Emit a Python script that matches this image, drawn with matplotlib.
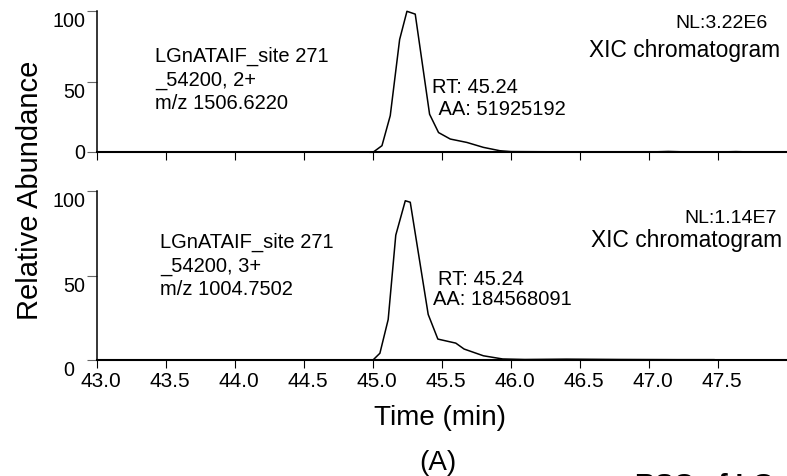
import matplotlib
matplotlib.use("Agg")
import matplotlib.pyplot as plt
from matplotlib.transforms import ScaledTranslation

plt.rcParams['font.family'] = ['Liberation Sans', 'DejaVu Sans']

# ---- data ----
x_ticks = [43.0, 43.5, 44.0, 44.5, 45.0, 45.5, 46.0, 46.5, 47.0, 47.5]
x_tick_labels = ["43.0", "43.5", "44.0", "44.5", "45.0", "45.5", "46.0", "46.5", "47.0", "47.5"]
y_ticks = [0, 50, 100]
y_tick_labels = ["0", "50", "100"]

top_time = [44.98, 45.0, 45.065, 45.125, 45.193, 45.246, 45.306, 45.41, 45.475, 45.56,
            45.68, 45.80, 45.92, 46.0, 46.2, 46.5, 46.8, 47.0, 47.14, 47.3, 47.5, 47.63, 47.75]
top_abund = [0, 0, 4.7, 26, 80, 100, 98, 27, 14, 9.4,
             7, 3.5, 1.1, 0.5, 0.4, 0.3, 0.3, 0.2, 0.6, 0.2, 0.2, 0.5, 0.2]

bot_time = [44.98, 45.0, 45.05, 45.11, 45.165, 45.234, 45.27, 45.40, 45.47, 45.6,
            45.66, 45.8, 45.94, 46.1, 46.4, 46.8, 47.2, 47.47]
bot_abund = [0, 0, 4, 24, 74, 94.4, 93.5, 27, 12.4, 10,
             6.5, 2.5, 0.6, 0.3, 0.5, 0.3, 0.2, 0.2]

top_label = ["LGnATAIF_site 271", "_54200, 2+", "m/z 1506.6220"]
bot_label = ["LGnATAIF_site 271", "_54200, 3+", "m/z 1004.7502"]
top_rt = ["RT: 45.24", " AA: 51925192"]
bot_rt = ["RT: 45.24", "AA: 184568091"]
top_nl = "NL:3.22E6"
bot_nl = "NL:1.14E7"

W, H = 787, 477
fig = plt.figure(figsize=(W / 100, H / 100), dpi=100)


def fx(x):
    return x / W


def fy(y):
    return 1 - y / H


ax1 = fig.add_axes([fx(97), fy(153.3), 690 / W, 141 / H])
ax2 = fig.add_axes([fx(97), fy(361), 690 / W, 168.7 / H])

for ax, t, a in [(ax1, top_time, top_abund), (ax2, bot_time, bot_abund)]:
    ax.plot(t, a, color='black', lw=1.1, clip_on=False)
    ax.set_xlim(43, 48)
    ax.set_ylim(0, 100)
    ax.spines['top'].set_visible(False)
    ax.spines['right'].set_visible(False)
    ax.spines['left'].set_linewidth(1.1)
    ax.spines['bottom'].set_linewidth(1.5)
    ax.set_xticks(x_ticks)
    ax.set_yticks(y_ticks)
    ax.set_yticklabels(y_tick_labels, fontsize=14.2)
    ax.tick_params(axis='y', direction='out', length=7.2, width=0.8, color='#666666', pad=1)
    ax.tick_params(axis='x', direction='out', length=5.8, width=0.8, color='black', pad=2)
    for lab in ax.get_yticklabels():
        lab.set_verticalalignment('top')

ax1.set_xticklabels([])
ax1.get_yticklabels()[0].set_verticalalignment('center')
ax2.set_xticklabels(x_tick_labels, fontsize=15)

# small offsets of tick labels as in the reference
for lab in ax2.get_xticklabels():
    lab.set_transform(lab.get_transform() + ScaledTranslation(0.035, 0, fig.dpi_scale_trans))
zero_lab = ax2.get_yticklabels()[0]
zero_lab.set_transform(zero_lab.get_transform() + ScaledTranslation(-0.11, 0, fig.dpi_scale_trans))

fs = 14.5
# top panel texts
for i, line in enumerate(top_label):
    fig.text(fx(155), fy(62 + 23.5 * i), line, fontsize=fs, va='baseline', ha='left')
fig.text(fx(432), fy(93), top_rt[0], fontsize=fs, va='baseline', ha='left')
fig.text(fx(434), fy(115), top_rt[1], fontsize=fs, va='baseline', ha='left')
fig.text(fx(768), fy(28), top_nl, fontsize=14, va='baseline', ha='right')
fig.text(fx(780), fy(57), "XIC chromatogram", fontsize=16.4, va='baseline', ha='right')

# bottom panel texts
for i, line in enumerate(bot_label):
    fig.text(fx(160), fy(248 + 23.5 * i), line, fontsize=fs, va='baseline', ha='left')
fig.text(fx(438), fy(285), bot_rt[0], fontsize=fs, va='baseline', ha='left')
fig.text(fx(433), fy(305), bot_rt[1], fontsize=fs, va='baseline', ha='left')
fig.text(fx(777), fy(223), bot_nl, fontsize=14, va='baseline', ha='right')
fig.text(fx(782), fy(247), "XIC chromatogram", fontsize=16.4, va='baseline', ha='right')

# axis titles
fig.text(fx(30), fy(190), "Relative Abundance", rotation=90, fontsize=21, ha='center', va='center')
fig.text(fx(440), fy(425), "Time (min)", fontsize=20, ha='center', va='baseline')
fig.text(fx(437.5), fy(470), "(A)", fontsize=20, ha='center', va='baseline')
fig.text(fx(635), fy(493), "RSC of LG", fontsize=20, fontweight='bold', ha='left', va='baseline')

fig.savefig("out.png", dpi=100, facecolor='white')
